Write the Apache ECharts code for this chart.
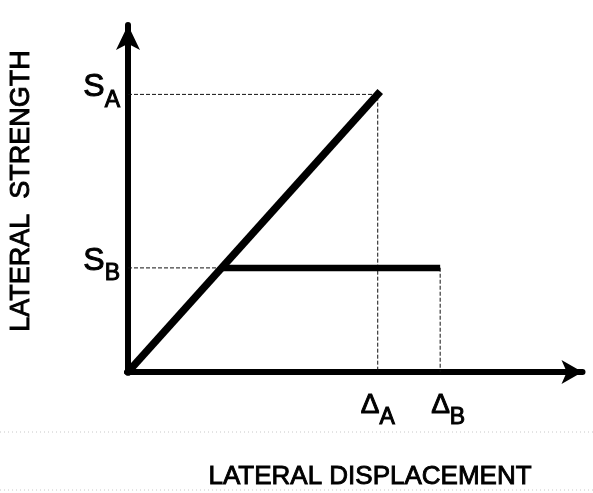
<!DOCTYPE html>
<html>
<head>
<meta charset="utf-8">
<script src="https://cdn.jsdelivr.net/npm/echarts@6/dist/echarts.min.js"></script>
<style>
  html, body { margin: 0; padding: 0; background: #fff; }
  #chart { width: 593px; height: 493px; }
</style>
</head>
<body>
<div id="chart"></div>
<script>
// ---- data ----
const elasticDisp = [0, 4];          // structure A: elastic line
const elasticStrength = [0, 8];
const plasticDisp = [1.5, 5];        // structure B: yield plateau
const plasticStrength = [3, 3];
const strengthTicks = [3, 8];        // S_B, S_A
const strengthTickNames = ['B', 'A'];
const dispTicks = [4, 5];            // Δ_A, Δ_B
const dispTickNames = ['A', 'B'];
const yTitle = 'LATERAL  STRENGTH';
const xTitle = 'LATERAL DISPLACEMENT';

const FONT = '"Liberation Sans", Arial, Helvetica, sans-serif';
const pairs = (xs, ys) => xs.map((x, i) => [x, ys[i]]);

const chart = echarts.init(document.getElementById('chart'), null, { renderer: 'canvas' });

const guideA = [[0, strengthTicks[1]], [dispTicks[0], strengthTicks[1]], [dispTicks[0], 0]];
const guideB = [[0, strengthTicks[0]], [dispTicks[1], strengthTicks[0]], [dispTicks[1], 0]];

const dashed = { color: '#111', width: 1, type: [4, 2] };
const heavy = { textBorderColor: '#000', textBorderWidth: 1 };

chart.setOption({
  backgroundColor: '#fff',
  animation: false,
  grid: { left: 128, right: 10.5, top: 25, bottom: 121 },
  xAxis: {
    type: 'value', min: 0, max: 7.28,
    splitLine: { show: false },
    axisTick: { show: false },
    axisLine: {
      show: true, onZero: false,
      symbol: ['none', 'arrow'], symbolSize: [18, 21],
      lineStyle: { color: '#000', width: 6 }
    },
    axisLabel: {
      customValues: dispTicks,
      margin: 19,
      formatter: v => {
        const i = dispTicks.indexOf(v);
        return (i === 1 ? '{gap|}' : '') + '{d|Δ}{sub|' + dispTickNames[i] + '}';
      },
      rich: {
        d: Object.assign({ fontFamily: FONT, fontSize: 28, color: '#000', padding: [0, 0, 14, 0] }, heavy),
        sub: Object.assign({ fontFamily: FONT, fontSize: 23, color: '#000', padding: [12, 0, 0, 0] }, heavy),
        gap: { width: 16 }
      }
    }
  },
  yAxis: {
    type: 'value', min: 0, max: 10,
    splitLine: { show: false },
    axisTick: { show: false },
    axisLine: {
      show: true, onZero: false,
      symbol: ['none', 'arrow'], symbolSize: [18, 25],
      lineStyle: { color: '#000', width: 6 }
    },
    axisLabel: {
      customValues: strengthTicks,
      margin: 8,
      formatter: v => '{s|S}{sub|' + strengthTickNames[strengthTicks.indexOf(v)] + '}',
      rich: {
        s: Object.assign({ fontFamily: FONT, fontSize: 32, color: '#000', padding: [0, 0, 14, 0] }, heavy),
        sub: Object.assign({ fontFamily: FONT, fontSize: 23, color: '#000', padding: [12, 0, 0, 0] }, heavy)
      }
    }
  },
  graphic: [
    {
      type: 'text', x: 22, y: 191, rotation: Math.PI / 2,
      style: { text: yTitle, font: '27px ' + FONT, fill: '#000', stroke: '#000', lineWidth: 0.9,
               align: 'center', verticalAlign: 'middle' }
    },
    {
      type: 'text', x: 370, y: 477,
      style: { text: xTitle, font: '26px ' + FONT, fill: '#000', stroke: '#000', lineWidth: 0.9,
               align: 'center', verticalAlign: 'middle' }
    },
    {
      type: 'line', shape: { x1: 0, y1: 432, x2: 593, y2: 432 },
      style: { stroke: '#c8c8c8', lineWidth: 1, lineDash: [1, 3] }
    },
    {
      type: 'line', shape: { x1: 0, y1: 490, x2: 593, y2: 490 },
      style: { stroke: '#c8c8c8', lineWidth: 1, lineDash: [1, 3] }
    }
  ],
  series: [
    { type: 'line', data: guideA, symbol: 'none', lineStyle: dashed, z: 1, silent: true },
    { type: 'line', data: guideB, symbol: 'none', lineStyle: dashed, z: 1, silent: true },
    { type: 'line', data: pairs(elasticDisp, elasticStrength), symbol: 'none',
      lineStyle: { color: '#000', width: 7.5, cap: 'square' }, z: 3 },
    { type: 'line', data: pairs(plasticDisp, plasticStrength), symbol: 'none',
      lineStyle: { color: '#000', width: 6.5, cap: 'butt' }, z: 3 }
  ]
});
</script>
</body>
</html>
